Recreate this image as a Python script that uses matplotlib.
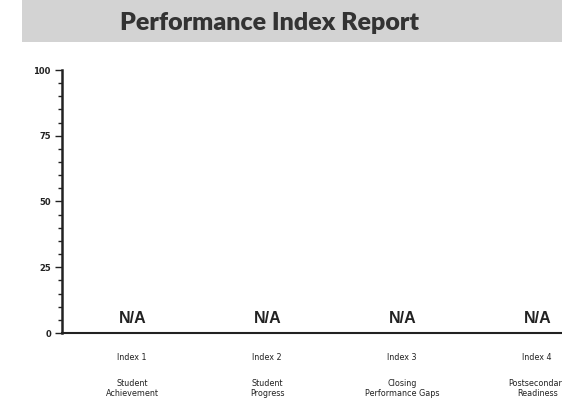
import matplotlib
matplotlib.use("Agg")
import matplotlib.pyplot as plt
from matplotlib.patches import Rectangle
from matplotlib.ticker import MultipleLocator

# data
index_names = ['Index 1', 'Index 2', 'Index 3', 'Index 4']
index_desc = ['Student\nAchievement', 'Student\nProgress',
              'Closing\nPerformance Gaps', 'Postsecondary\nReadiness']
scores = [None, None, None, None]  # no score reported -> N/A
y_ticks = [0, 25, 50, 75, 100]

fig = plt.figure(figsize=(5.62, 4.15), dpi=100)

# grey title banner
fig.patches.append(Rectangle((22 / 562, 1 - 42 / 415), 1, 42 / 415,
                             transform=fig.transFigure, facecolor='#d3d3d3',
                             edgecolor='none', zorder=0))
fig.text(0.479, 1 - 23 / 415, 'Performance Index Report', ha='center', va='center',
         fontsize=18, fontweight='heavy', family='Lato', color='#333333')

ax = fig.add_axes([62 / 562, 82 / 415, 4 * 135 / 562, 263 / 415])
ax.set_xlim(0, len(index_names))
ax.set_ylim(0, 100)
ax.set_yticks(y_ticks)
ax.yaxis.set_minor_locator(MultipleLocator(5))
ax.set_xticks([])
for s in ['top', 'right']:
    ax.spines[s].set_visible(False)
ax.spines['left'].set_linewidth(1.8)
ax.spines['bottom'].set_linewidth(1.5)
ax.spines['left'].set_color('#222222')
ax.spines['bottom'].set_color('#222222')
ax.tick_params(axis='y', which='major', length=5, width=1, labelsize=6,
               colors='#222222', pad=3)
for lbl in ax.get_yticklabels():
    lbl.set_fontweight('bold')
ax.tick_params(axis='y', which='minor', length=3, width=1, colors='#222222')

for i, (name, desc, val) in enumerate(zip(index_names, index_desc, scores)):
    x = i + 0.52
    if val is None:
        ax.bar(x, 0, width=0.6, color='#4a7ab5')
        ax.text(x, 2.5, 'N/A', ha='center', va='bottom', fontsize=11.5,
                fontweight='bold', family='Liberation Sans', color='#222222')
    else:
        ax.bar(x, val, width=0.6, color='#4a7ab5')
    ax.text(x, -7.5, name, ha='center', va='top', fontsize=5.8,
            family='DejaVu Sans', color='#222222', clip_on=False)
    ax.text(x, -17.5, desc, ha='center', va='top', fontsize=5.8,
            family='DejaVu Sans', color='#222222', linespacing=1.15, clip_on=False)

plt.savefig('out.png', dpi=100)
